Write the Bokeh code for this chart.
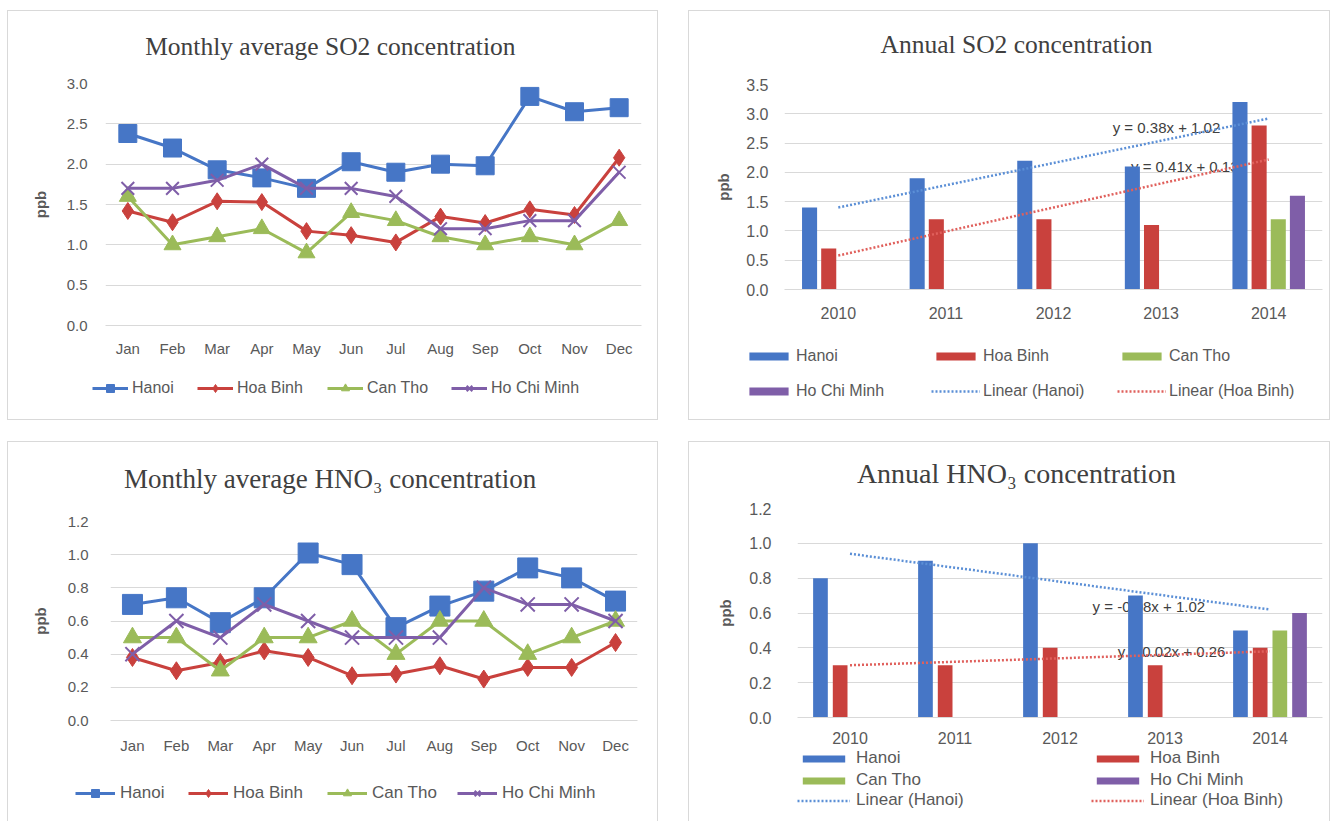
import numpy as np
from bokeh.plotting import figure
from bokeh.models import (FactorRange, Range1d, Legend, LegendItem, FixedTicker,
                          NumeralTickFormatter, ColumnDataSource)
from bokeh.transform import dodge
from bokeh.core.properties import value
from bokeh.embed import file_html
from bokeh.resources import INLINE

# ---------------- data ----------------
months = ["Jan", "Feb", "Mar", "Apr", "May", "Jun", "Jul", "Aug", "Sep", "Oct", "Nov", "Dec"]
years = ["2010", "2011", "2012", "2013", "2014"]
series_names = ["Hanoi", "Hoa Binh", "Can Tho", "Ho Chi Minh"]

so2_month_hanoi = [2.38, 2.20, 1.93, 1.83, 1.70, 2.03, 1.90, 2.00, 1.98, 2.84, 2.65, 2.70]
so2_month_hoabinh = [1.42, 1.28, 1.54, 1.53, 1.17, 1.12, 1.03, 1.35, 1.27, 1.44, 1.37, 2.08]
so2_month_cantho = [1.60, 1.00, 1.10, 1.20, 0.90, 1.40, 1.30, 1.10, 1.00, 1.10, 1.00, 1.30]
so2_month_hcm = [1.70, 1.70, 1.80, 2.00, 1.70, 1.70, 1.60, 1.20, 1.20, 1.30, 1.30, 1.90]

hno3_month_hanoi = [0.70, 0.74, 0.59, 0.74, 1.01, 0.94, 0.56, 0.69, 0.78, 0.92, 0.86, 0.72]
hno3_month_hoabinh = [0.38, 0.30, 0.35, 0.42, 0.38, 0.27, 0.28, 0.33, 0.25, 0.32, 0.32, 0.47]
hno3_month_cantho = [0.50, 0.50, 0.30, 0.50, 0.50, 0.60, 0.40, 0.60, 0.60, 0.40, 0.50, 0.60]
hno3_month_hcm = [0.40, 0.60, 0.50, 0.70, 0.60, 0.50, 0.50, 0.50, 0.80, 0.70, 0.70, 0.60]

nan = float("nan")
so2_year_hanoi = [1.4, 1.9, 2.2, 2.1, 3.2]
so2_year_hoabinh = [0.7, 1.2, 1.2, 1.1, 2.8]
so2_year_cantho = [nan, nan, nan, nan, 1.2]
so2_year_hcm = [nan, nan, nan, nan, 1.6]

hno3_year_hanoi = [0.8, 0.9, 1.0, 0.7, 0.5]
hno3_year_hoabinh = [0.3, 0.3, 0.4, 0.3, 0.4]
hno3_year_cantho = [nan, nan, nan, nan, 0.5]
hno3_year_hcm = [nan, nan, nan, nan, 0.6]

titles = ["Monthly average  SO2 concentration", "Annual SO2 concentration",
          "Monthly average  HNO\u2083 concentration", "Annual HNO\u2083 concentration"]
so2_eq = ["y = 0.38x + 1.02", "y = 0.41x + 0.13"]
hno3_eq = ["y = -0.08x + 1.02", "y = 0.02x + 0.26"]
trend_labels = ["Linear (Hanoi)", "Linear (Hoa Binh)"]

# ---------------- style ----------------
FONT = "Liberation Sans"
SERIF = "Liberation Serif"
TXT = "#595959"
GRID = "#d9d9d9"
BLUE = "#4676c6"
RED = "#c9413d"
GREEN = "#9bbb59"
PURPLE = "#7f5ea8"
TBLUE = "#5b8fd6"
TRED = "#e0605c"
COLORS = [BLUE, RED, GREEN, PURPLE]
MARKERS = ["square", "diamond", "triangle", "x"]


def place(p, left, top, border=True, border_bottom=True):
    st = {"position": "absolute", "left": f"{left}px", "top": f"{top}px"}
    if border:
        st["border"] = "1px solid #d9d9d9"
        if not border_bottom:
            st["border-bottom"] = "none"
    p.styles = st


def base_fig(x_range, y_max, y_step, W, H, geo, ystand, ylabstand, xstand, ticksize):
    fl, fr, ft, fb = geo
    p = figure(x_range=x_range, y_range=Range1d(0, y_max), width=W, height=H,
               output_backend="svg", toolbar_location=None,
               min_border_left=fl, min_border_right=W - 2 - fr,
               min_border_top=ft, min_border_bottom=H - 2 - fb)
    p.outline_line_color = None
    p.xgrid.grid_line_color = None
    p.ygrid.grid_line_color = GRID
    ticks = [round(i * y_step, 2) for i in range(int(round(y_max / y_step)) + 1)]
    p.yaxis.ticker = FixedTicker(ticks=ticks)
    p.yaxis.formatter = NumeralTickFormatter(format="0.0")
    p.yaxis.axis_line_color = None
    p.yaxis.axis_label = "ppb"
    p.yaxis.axis_label_standoff = ylabstand
    p.yaxis.axis_label_text_font = FONT
    p.yaxis.axis_label_text_font_size = "15px"
    p.yaxis.axis_label_text_font_style = "bold"
    p.yaxis.axis_label_text_color = "#595959"
    p.yaxis.major_label_standoff = ystand
    p.xaxis.axis_line_color = GRID
    p.xaxis.major_label_standoff = xstand
    for ax in (p.xaxis, p.yaxis):
        ax.major_tick_line_color = None
        ax.minor_tick_line_color = None
        ax.major_tick_out = 0
        ax.major_tick_in = 0
        ax.minor_tick_out = 0
        ax.major_label_text_font = FONT
        ax.major_label_text_font_size = f"{ticksize}px"
        ax.major_label_text_color = TXT
    return p


def overlay_fig(W, H):
    q = figure(width=W, height=H, x_range=Range1d(0, W), y_range=Range1d(0, H),
               output_backend="svg", toolbar_location=None,
               min_border_left=0, min_border_right=0, min_border_top=0, min_border_bottom=0)
    q.axis.visible = False
    q.grid.visible = False
    q.outline_line_color = None
    q.background_fill_color = None
    q.border_fill_color = None
    return q


def title_fig(text, W, xc, size):
    q = overlay_fig(W, 44)
    q.text(x=[xc], y=[22], text=[text], text_font=value(SERIF), text_font_size=f"{size}px",
           text_color="#404040", text_align="center", text_baseline="middle")
    return q


def add_item(q, label, rends, vx, vy, gw, gh, lstand, lsize):
    leg = Legend(items=[LegendItem(label=label, renderers=rends)], location=(vx, vy),
                 orientation="horizontal", glyph_width=gw, glyph_height=gh,
                 label_standoff=lstand, padding=0, margin=0, spacing=0,
                 border_line_color=None, background_fill_alpha=0,
                 label_text_font=FONT, label_text_font_size=f"{lsize}px",
                 label_text_color=TXT, label_height=20, label_width=20)
    q.add_layout(leg)


def monthly(vals, y_max, y_step, W, H, geo, ystand, ylabstand, xstand, msz):
    p = base_fig(FactorRange(*months, range_padding=0), y_max, y_step, W, H, geo,
                 ystand, ylabstand, xstand, 15)
    src = ColumnDataSource(dict(m=months, a=vals[0], b=vals[1], c=vals[2], d=vals[3]))
    for col, colr, mk, s in zip("abcd", COLORS, MARKERS, msz):
        p.line("m", col, source=src, line_color=colr, line_width=3)
        if mk == "x":
            p.scatter("m", col, source=src, marker=mk, size=s, line_color=colr, line_width=2)
        else:
            p.scatter("m", col, source=src, marker=mk, size=s, fill_color=colr,
                      line_color=colr, line_width=1)
    return p


def monthly_legend(W, H, xs, vy, gw, lstand, lsize):
    q = overlay_fig(W, H)
    for name, colr, mk, vx in zip(series_names, COLORS, MARKERS, xs):
        l = q.line([nan], [nan], line_color=colr, line_width=3)
        if mk == "x":
            m = q.scatter([nan], [nan], marker=mk, size=8, line_color=colr, line_width=2)
        else:
            m = q.scatter([nan], [nan], marker=mk, size=8, fill_color=colr, line_color=colr)
        add_item(q, name, [l, m], vx, vy, gw, 20, lstand, lsize)
    return q


def annual(vals, y_max, y_step, W, H, geo, ystand, ylabstand, xstand, pitch, bw, eqs, eq_pos):
    p = base_fig(FactorRange(*years, range_padding=0), y_max, y_step, W, H, geo,
                 ystand, ylabstand, xstand, 16)
    # equation labels (drawn first so the bars cover them, as in the original)
    for i in range(2):
        p.text(x=dodge("x", eq_pos[i][0], range=p.x_range), y="y", text="t",
               source=ColumnDataSource(dict(x=["2013"], y=[eq_pos[i][1]], t=[eqs[i]])),
               text_font=value(FONT), text_font_size="15px", text_color="#404040",
               text_baseline="middle", text_align="left")
    src = ColumnDataSource(dict(yr=years, a=vals[0], b=vals[1], c=vals[2], d=vals[3]))
    offs = [-1.5 * pitch, -0.5 * pitch, 0.5 * pitch, 1.5 * pitch]
    for col, colr, off in zip("abcd", COLORS, offs):
        p.vbar(x=dodge("yr", off, range=p.x_range), top=col, width=bw, source=src,
               fill_color=colr, line_color=None)
    # linear trendlines (least squares on x = 1..5, as Excel does)
    xs = np.arange(1, 6)
    for v, colr in ((vals[0], TBLUE), (vals[1], TRED)):
        k, b = np.polyfit(xs, np.array(v, dtype=float), 1)
        p.line(x=years, y=list(k * xs + b), line_color=colr, line_width=2.5, line_dash="2 2")
    return p


def annual_legend(W, H, positions, gw, gh, lstand, lsize):
    q = overlay_fig(W, H)
    rends = []
    for colr in COLORS:
        rends.append(q.vbar(x=[nan], top=[nan], width=0.1, fill_color=colr, line_color=None))
    for colr in (TBLUE, TRED):
        rends.append(q.line([nan], [nan], line_color=colr, line_width=2.5, line_dash="2 2"))
    for lab, r, (vx, vy) in zip(series_names + trend_labels, rends, positions):
        add_item(q, lab, [r], vx, vy, gw, gh, lstand, lsize)
    return q


# geometry tuples: (frame left, frame right, frame top, frame bottom) inside the canvas
p1 = monthly([so2_month_hanoi, so2_month_hoabinh, so2_month_cantho, so2_month_hcm],
             3.0, 0.5, 651, 410, (97, 631, 72, 312), 18, 15, 14, (18, 17, 17, 18))
place(p1, 7, 10)
t1 = title_fig(titles[0], 649, 325, 25.5)
place(t1, 8, 24, border=False)
l1 = monthly_legend(649, 36, [84, 189, 319, 443], 8, 36, 4, 16)
place(l1, 8, 370, border=False)

p2 = annual([so2_year_hanoi, so2_year_hoabinh, so2_year_cantho, so2_year_hcm],
            3.5, 0.5, 642, 410, (95, 631, 73, 276), 16, 11, 17, 0.178, 0.14, so2_eq,
            [(-0.45, 2.76), (-0.28, 2.10)])
place(p2, 688, 10)
t2 = title_fig(titles[1], 640, 327, 25.5)
place(t2, 689, 22, border=False)
l2 = annual_legend(640, 80, [(55, 44), (242, 44), (428, 44), (55, 9), (242, 9), (428, 9)],
                   49, 10, 3, 16)
place(l2, 689, 330, border=False)

p3 = monthly([hno3_month_hanoi, hno3_month_hoabinh, hno3_month_cantho, hno3_month_hcm],
             1.2, 0.2, 651, 380, (102, 627, 79, 276), 22, 16, 16, (20, 18, 18, 20))
place(p3, 7, 441, border_bottom=False)
t3 = title_fig(titles[2], 649, 325, 27)
place(t3, 8, 456, border=False)
l3 = monthly_legend(649, 45, [67, 180, 319, 449], 12, 40, 5, 17)
place(l3, 8, 770, border=False)

p4 = annual([hno3_year_hanoi, hno3_year_hoabinh, hno3_year_cantho, hno3_year_hcm],
            1.2, 0.2, 642, 380, (108, 631, 66, 273), 26, 12, 14, 0.1875, 0.14, hno3_eq,
            [(-0.69, 0.64), (-0.45, 0.377)])
place(p4, 688, 441, border_bottom=False)
t4 = title_fig(titles[3], 640, 327, 28)
place(t4, 689, 451, border=False)
l4 = annual_legend(640, 70, [(108, 47), (402, 47), (108, 25), (402, 25), (108, 5), (402, 5)],
                   53, 9, 6, 17)
place(l4, 689, 745, border=False)

open("out.html", "w").write(file_html([p1, p2, p3, p4, t1, t2, t3, t4, l1, l2, l3, l4], INLINE))
